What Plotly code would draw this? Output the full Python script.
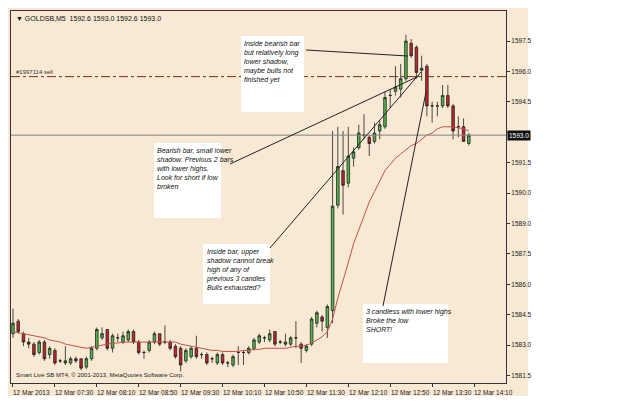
import plotly.graph_objects as go

# M5 bars, 12 Mar 2013 06:50 .. 14:05
opens = [1583.5, 1584.1, 1583.5, 1583.1, 1583.0, 1582.6, 1583.1, 1582.5, 1582.7, 1582.2,
         1582.1, 1582.1, 1582.3, 1582.3, 1581.9, 1582.3, 1582.8, 1583.3, 1583.7, 1582.8,
         1583.3, 1583.1, 1583.2, 1583.6, 1583.1, 1582.6, 1582.7, 1583.1, 1583.5, 1583.1,
         1583.1, 1582.9, 1582.8, 1582.2, 1582.4, 1582.8, 1582.5, 1582.5, 1582.3, 1582.1,
         1582.5, 1582.1, 1582.0, 1582.6, 1582.6, 1582.6, 1582.8, 1583.1, 1583.3, 1583.2,
         1583.6, 1583.1, 1583.0, 1583.0, 1583.3, 1583.0, 1582.7, 1583.0, 1584.0, 1584.3,
         1583.8, 1584.6, 1589.65, 1591.3, 1590.7, 1591.9, 1592.4, 1593.0, 1592.9, 1592.7,
         1593.2, 1593.4, 1594.9, 1595.1, 1595.2, 1595.7, 1597.4, 1597.2, 1596.1, 1596.3,
         1594.4, 1594.4, 1594.4, 1594.9, 1594.4, 1593.4, 1593.4, 1592.6]
closes = [1584.0, 1583.6, 1583.1, 1583.0, 1582.5, 1583.1, 1582.3, 1582.8, 1582.1, 1582.2,
          1582.2, 1582.3, 1582.2, 1581.85, 1582.3, 1582.8, 1583.7, 1583.5, 1582.8, 1583.4,
          1583.3, 1583.4, 1583.6, 1583.1, 1582.6, 1582.6, 1583.1, 1583.5, 1583.0, 1583.1,
          1582.8, 1582.4, 1582.0, 1582.7, 1582.8, 1582.4, 1582.5, 1582.1, 1582.3, 1582.5,
          1582.1, 1582.1, 1582.4, 1582.6, 1582.6, 1582.8, 1583.2, 1583.4, 1583.3, 1583.5,
          1583.0, 1583.1, 1583.1, 1583.3, 1583.3, 1582.8, 1582.9, 1584.2, 1584.5, 1584.1,
          1584.8, 1589.6, 1591.5, 1590.6, 1592.0, 1592.2, 1593.1, 1593.0, 1592.6, 1593.1,
          1593.5, 1594.8, 1594.9, 1595.3, 1595.7, 1597.5, 1596.8, 1596.0, 1596.2, 1594.4,
          1594.4, 1594.4, 1594.9, 1594.4, 1593.2, 1593.4, 1592.7, 1593.0]
highs = [1584.7, 1584.2, 1583.6, 1583.3, 1583.1, 1583.2, 1583.2, 1582.9, 1582.8, 1582.3,
         1582.9, 1582.4, 1582.4, 1582.3, 1582.4, 1582.9, 1583.8, 1583.8, 1583.7, 1583.5,
         1583.5, 1583.6, 1583.7, 1583.7, 1583.2, 1582.7, 1583.2, 1583.6, 1583.5, 1583.9,
         1583.2, 1583.0, 1582.9, 1582.8, 1582.9, 1583.4, 1582.6, 1582.6, 1582.4, 1582.6,
         1582.6, 1582.2, 1582.5, 1582.9, 1582.7, 1582.9, 1583.3, 1583.5, 1583.4, 1583.7,
         1583.6, 1583.2, 1583.5, 1583.4, 1584.1, 1583.1, 1583.0, 1584.3, 1584.6, 1584.4,
         1584.9, 1593.2, 1593.4, 1593.2, 1593.4, 1592.4, 1593.5, 1594.0, 1593.0, 1593.6,
         1593.7, 1595.1, 1595.2, 1596.3, 1596.4, 1597.8, 1597.6, 1597.3, 1596.8, 1596.4,
         1594.6, 1594.6, 1595.4, 1595.4, 1594.5, 1593.9, 1593.8, 1593.1]
lows = [1583.3, 1583.5, 1582.9, 1582.8, 1582.4, 1582.5, 1582.2, 1582.3, 1582.0, 1582.1,
        1582.0, 1582.0, 1582.1, 1581.75, 1581.8, 1582.2, 1582.7, 1583.2, 1582.7, 1582.6,
        1583.1, 1583.0, 1583.1, 1583.0, 1582.5, 1582.3, 1582.6, 1583.0, 1582.9, 1583.0,
        1582.7, 1582.3, 1581.7, 1582.1, 1582.3, 1582.3, 1582.3, 1582.0, 1582.1, 1582.0,
        1582.0, 1581.9, 1581.9, 1582.0, 1582.0, 1582.5, 1582.7, 1583.0, 1583.1, 1583.1,
        1582.9, 1583.0, 1582.9, 1582.9, 1582.8, 1582.1, 1582.6, 1582.9, 1583.8, 1583.6,
        1583.3, 1584.0, 1589.5, 1589.2, 1590.5, 1591.5, 1592.3, 1592.8, 1592.0, 1592.6,
        1592.8, 1593.3, 1594.3, 1594.9, 1594.8, 1595.6, 1596.7, 1595.7, 1595.6, 1593.9,
        1593.6, 1593.9, 1594.3, 1594.3, 1592.8, 1592.9, 1592.7, 1592.5]
ma = [1583.6, 1583.55, 1583.5, 1583.45, 1583.4, 1583.35, 1583.3, 1583.2, 1583.15, 1583.1,
      1583.0, 1582.95, 1582.9, 1582.85, 1582.8, 1582.85, 1582.9, 1582.95, 1583.0, 1583.05,
      1583.05, 1583.1, 1583.1, 1583.1, 1583.1, 1583.1, 1583.1, 1583.1, 1583.1, 1583.1,
      1583.1, 1583.1, 1583.0, 1582.95, 1582.9, 1582.85, 1582.8, 1582.75, 1582.7, 1582.7,
      1582.65, 1582.65, 1582.65, 1582.65, 1582.7, 1582.7, 1582.75, 1582.75, 1582.8, 1582.8,
      1582.8, 1582.8, 1582.8, 1582.85, 1582.9, 1582.9, 1582.95, 1583.05, 1583.2, 1583.35,
      1583.6, 1584.2, 1585.2, 1586.0, 1586.9, 1587.8, 1588.5, 1589.2, 1589.8, 1590.3,
      1590.8, 1591.3, 1591.6, 1591.9, 1592.1, 1592.3, 1592.5, 1592.6, 1592.8, 1593.0,
      1593.1, 1593.3, 1593.4, 1593.4, 1593.4, 1593.35, 1593.3, 1593.2]
time_labels = ["12 Mar 2013", "12 Mar 07:30", "12 Mar 08:10", "12 Mar 08:50", "12 Mar 09:30",
               "12 Mar 10:10", "12 Mar 10:50", "12 Mar 11:30", "12 Mar 12:10", "12 Mar 12:50",
               "12 Mar 13:30", "12 Mar 14:10"]
time_ticks = [0, 8, 16, 24, 32, 40, 48, 56, 64, 72, 80, 88]
price_labels = ["1581.5", "1583.0", "1584.5", "1586.0", "1587.5", "1589.0",
                "1590.0", "1591.5", "", "1594.5", "1596.0", "1597.5"]
sell_level = 1595.8
last_price = 1593.0

bars = list(range(len(opens)))
BG = "#f7e9d4"
FONT = "Liberation Sans"

fig = go.Figure()
fig.add_trace(go.Scatter(x=bars, y=ma, mode="lines", line=dict(color="#c8504a", width=1),
                         hoverinfo="skip"))
fig.add_trace(go.Candlestick(
    x=bars, open=opens, high=highs, low=lows, close=closes,
    increasing=dict(line=dict(color="#222222", width=0.8), fillcolor="#4fb84a"),
    decreasing=dict(line=dict(color="#222222", width=0.8), fillcolor="#c4242a"),
    whiskerwidth=0,
))

# pixel -> paper helpers (plot area x 3..498, y 3..375)
def px(x):
    return (x - 3) / 495

def py(y):
    return (375 - y) / 372

shapes = [
    # beige chart background incl. price/time scales
    dict(type="rect", xref="paper", yref="paper", x0=px(0), x1=px(520), y0=py(388), y1=py(0),
         fillcolor=BG, line_width=0, layer="below"),
    dict(type="line", xref="paper", yref="y", x0=0, x1=1, y0=sell_level, y1=sell_level,
         line=dict(color="#8a2a1a", width=1, dash="dashdot")),
    dict(type="line", xref="paper", yref="y", x0=0, x1=1, y0=last_price, y1=last_price,
         line=dict(color="#808080", width=1)),
]
# white note boxes and pointer lines
boxes = [(233, 28, 296, 104), (146, 135, 213, 210), (195, 236, 262, 296), (355, 296, 440, 355)]
for x0, y0, x1, y1 in boxes:
    shapes.append(dict(type="rect", xref="paper", yref="paper", x0=px(x0), x1=px(x1),
                       y0=py(y1), y1=py(y0), fillcolor="white", line_width=0))
pointers = [(298, 42, 400, 48), (222, 156, 411, 68), (262, 240, 413, 64), (375, 298, 418, 84)]
for x0, y0, x1, y1 in pointers:
    shapes.append(dict(type="line", xref="paper", yref="paper", x0=px(x0), x1=px(x1),
                       y0=py(y0), y1=py(y1), line=dict(color="#222222", width=1)))

notes = [
    (234, 30, "Inside bearish bar<br>but relatively long<br>lower shadow,<br>maybe bulls not<br>finished yet"),
    (147, 137, "Bearish bar, small lower<br>shadow. Previous 2 bars<br>with lower highs.<br>Look for short if low<br>broken"),
    (196, 238, "Inside bar, upper<br>shadow cannot break<br>high of any of<br>previous 3 candles<br>Bulls exhausted?"),
    (356, 298, "3 candless with lower highs<br>Broke the low<br>SHORT!"),
]
annotations = []
for x, y, t in notes:
    annotations.append(dict(xref="paper", yref="paper", x=px(x), y=py(y), xanchor="left",
                            yanchor="top", align="left", showarrow=False,
                            text="<i>" + t + "</i>",
                            font=dict(family=FONT, size=7, color="#111111")))
# time scale labels start at their tick, as in MT4
for b, t in zip(time_ticks, time_labels):
    annotations.append(dict(xref="x", yref="paper", x=b - 0.3, y=py(379), xanchor="left",
                            yanchor="top", showarrow=False, text=t,
                            font=dict(family=FONT, size=6.5, color="#222222")))
annotations += [
    dict(xref="paper", yref="paper", x=px(6), y=py(11), xanchor="left", yanchor="middle",
         showarrow=False, text="▼ GOLDSB,M5  1592.6 1593.0 1592.6 1593.0",
         font=dict(family=FONT, size=7, color="#111111")),
    dict(xref="paper", yref="y", x=px(6), y=sell_level, xanchor="left", yanchor="bottom",
         showarrow=False, text="#1997114 sell", font=dict(family=FONT, size=6, color="#333333")),
    dict(xref="paper", yref="paper", x=px(6), y=py(367), xanchor="left", yanchor="middle",
         showarrow=False, text="Smart Live SB MT4, © 2001-2013, MetaQuotes Software Corp.",
         font=dict(family=FONT, size=6, color="#222222")),
    dict(xref="paper", yref="y", x=px(499), y=last_price, xanchor="left", yanchor="middle",
         showarrow=False, text="1593.0", bgcolor="#111111",
         font=dict(family=FONT, size=6.5, color="white")),
]

fig.update_layout(
    width=625, height=416,
    margin=dict(l=3, r=127, t=3, b=41),
    paper_bgcolor="white", plot_bgcolor=BG,
    showlegend=False,
    shapes=shapes, annotations=annotations,
    xaxis=dict(range=[-0.38, 94.1], rangeslider=dict(visible=False), showgrid=False,
               zeroline=False, tickmode="array", tickvals=time_ticks, showticklabels=False,
               ticks="outside", ticklen=3, tickcolor="#333",
               showline=True, linecolor="#333", mirror=True),
    yaxis=dict(range=[1581.14, 1598.94], side="right", showgrid=False, zeroline=False,
               tickmode="array",
               tickvals=[1581.5 + i * 16 / 11 for i in range(12)], ticktext=price_labels,
               ticks="outside", ticklen=3, tickcolor="#333", showline=True,
               linecolor="#333", mirror=True,
               tickfont=dict(family=FONT, size=6.5, color="#222222")),
)

fig.write_html("out.html")
